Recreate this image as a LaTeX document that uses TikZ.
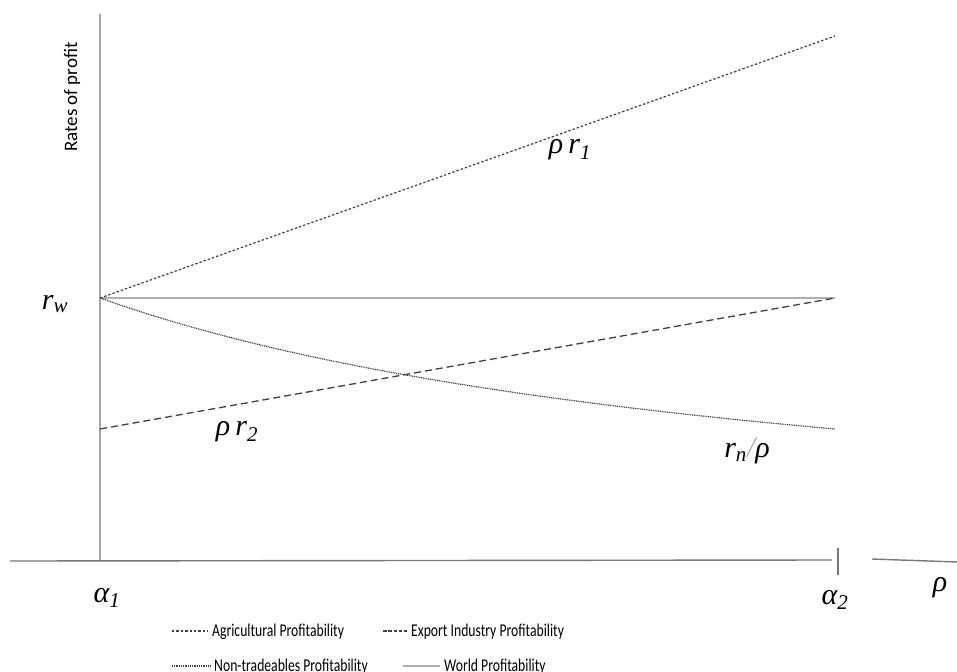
\documentclass[tikz,border=0pt]{standalone}
\usepackage{fontspec}
\setmainfont{Carlito}
\newfontfamily\lblfont{Liberation Serif}
\newfontfamily\legfont{Carlito}[FakeStretch=0.76]
\usepackage{xcolor}
\usepackage{tikz}
\definecolor{axis}{HTML}{777777}
\definecolor{ink}{HTML}{404040}
\definecolor{world}{HTML}{B0B0B0}
\tikzset{
  axisline/.style={draw=axis, line width=1.4pt},
  agri/.style={draw=ink, line width=1.2pt, dash pattern=on 2.4pt off 2pt},
  export/.style={draw=ink, line width=1.3pt, dash pattern=on 7pt off 4pt},
  exportleg/.style={draw=ink, line width=1.3pt, dash pattern=on 3.5pt off 1.8pt},
  nontrade/.style={draw=ink, line width=1.2pt, dash pattern=on 1pt off 0.8pt},
  worldline/.style={draw=world, line width=1.3pt},
  lab/.style={font=\lblfont\itshape\fontsize{30}{32}\selectfont, inner sep=0pt},
  leg/.style={font=\legfont\fontsize{18}{20}\selectfont, text=black, anchor=base west, inner sep=0pt},
}

\begin{document}
\begin{tikzpicture}[x=1pt,y=-1pt]
  \useasboundingbox (0,0) rectangle (957,671);
  \coordinate (top) at (100,14);
  \coordinate (O) at (100,560);
  \coordinate (xl) at (10,561);
  \coordinate (xr) at (832,560);
  \coordinate (xr2) at (872,559);
  \coordinate (xend) at (957,562);
  \coordinate (tickt) at (838,548);
  \coordinate (tickb) at (838,575);
  \coordinate (W) at (100,298);
  \coordinate (W2) at (835,298);
  \coordinate (A2) at (835,36);
  \coordinate (E1) at (100,429);
  \draw[axisline] (top) -- (O) (xl) -- (xr) (xr2) -- (xend);
  \draw[axisline] (tickt) -- (tickb);
  \draw[worldline] (W) -- (W2);
  \draw[agri] (W) -- (A2);
  \draw[export] (E1) -- (W2);
  \draw[nontrade] plot[domain=100:835,samples=80] (\x,{560-262/(1+(\x-100)/735)});
  \node[rotate=90, font=\fontsize{19}{21}\selectfont, text=black] (ylab) at (72,97) {Rates of profit};
  \node[lab] (rw) at (55,304) {r\textsubscript{w}};
  \node[lab] (pr1) at (570,150) {ρ\,r\textsubscript{1}};
  \node[lab] (pr2) at (237,432) {ρ\,r\textsubscript{2}};
  \node[lab] (rnp) at (747,451) {r\textsubscript{n}\textcolor{world}{/}ρ};
  \node[lab] (a1) at (107,598) {α\textsubscript{1}};
  \node[lab] (a2) at (835,600) {α\textsubscript{2}};
  \node[lab] (rho) at (940,588) {ρ};
  \foreach \st/\xa/\xb/\yy/\txt in {agri/172/208/636/Agricultural Profitability,
      exportleg/383/407/636/Export Industry Profitability,
      nontrade/172/210/671/Non-tradeables Profitability,
      worldline/403/440/671/World Profitability}{
    \coordinate (s-\st) at (\xa,\yy-5);
    \coordinate (e-\st) at (\xb,\yy-5);
    \draw[\st] (s-\st) -- (e-\st);
    \node[leg] (leg-\st) at (\xb+4,\yy) {\txt};
  }
\end{tikzpicture}
\end{document}
